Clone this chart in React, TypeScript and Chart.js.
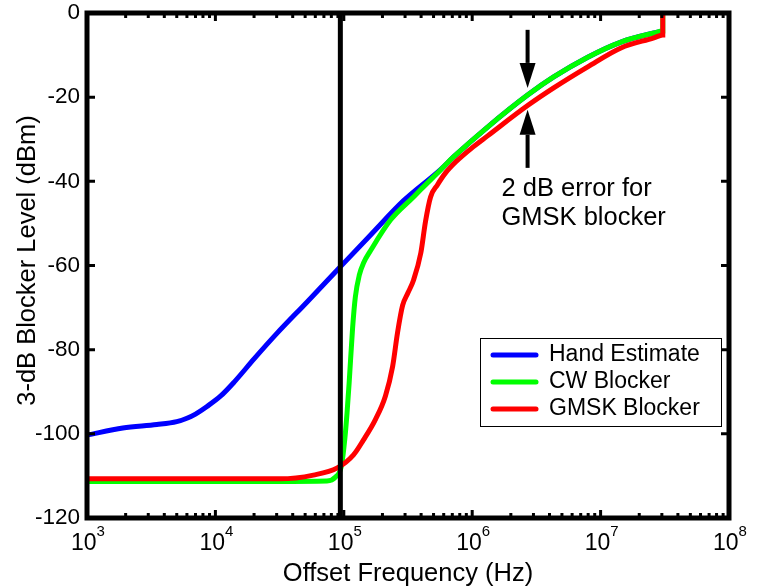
import { useEffect, useRef } from 'react';
import { Chart, registerables } from 'chart.js';

Chart.register(...registerables);

// ---------- data ----------
const X_MIN = 1e3;
const X_MAX = 1e8;
const Y_MIN = -120;
const Y_MAX = 0;
const X_DECADE_EXPONENTS = [3, 4, 5, 6, 7, 8];
const Y_TICKS = [0, -20, -40, -60, -80, -100, -120];

const SERIES_LABELS = ['Hand Estimate', 'CW Blocker', 'GMSK Blocker'];
const SERIES_COLORS = ['#0000ff', '#00ff00', '#ff0000'];

const HAND_X = [1e3, 1.9e3, 3.5e3, 5e3, 6e3, 7e3, 8.6e3, 1.1e4, 1.4e4, 2e4, 3e4, 5.2e4, 9.4e4, 1.61e5, 2.92e5, 5.67e5, 7.16e5, 1.318e6, 2.7e6, 4.31e6, 7.94e6, 1.44e7, 2.6e7, 3.05e7];
const HAND_Y = [-100.3, -98.6, -97.8, -97.1, -96.3, -95.3, -93.5, -91.0, -87.7, -82.2, -76.2, -68.6, -60.3, -52.8, -44.6, -37.2, -34.2, -27.1, -19.5, -15.2, -10.5, -6.9, -4.75, -4.3];

const CW_X = [1e3, 3e4, 7.4e4, 8.6e4, 9.6e4, 1.02e5, 1.06e5, 1.1e5, 1.17e5, 1.23e5, 1.32e5, 1.43e5, 1.613e5, 2.31e5, 3.49e5, 3.96e5, 5.67e5, 7.16e5, 1.318e6, 2.7e6, 4.31e6, 7.94e6, 1.44e7, 2.6e7, 3.05e7, 3.05e7];
const CW_Y = [-111.3, -111.3, -111.2, -110.3, -107.5, -101, -95, -88, -75, -67.5, -62.3, -59.3, -56.5, -49.2, -43.7, -42.0, -37.3, -34.2, -27.1, -19.5, -15.2, -10.5, -6.9, -4.75, -4.3, 0];

const GMSK_X = [1e3, 3.2e4, 5.8e4, 8.9e4, 1.19e5, 1.42e5, 1.77e5, 2.11e5, 2.4e5, 2.62e5, 2.87e5, 3.16e5, 3.49e5, 3.98e5, 4.33e5, 4.74e5, 5.37e5, 6.2e5, 7.5e5, 1e6, 1.318e6, 2.7e6, 4.31e6, 7.94e6, 1.44e7, 2.6e7, 3.05e7, 3.05e7];
const GMSK_Y = [-110.7, -110.7, -109.8, -108.1, -105, -101.5, -96.5, -91, -84, -76, -69.5, -66.5, -63.5, -57, -49.5, -43.7, -40.8, -38.0, -35.3, -32, -29.2, -22.0, -17.8, -12.8, -8.3, -5.9, -5.2, 0];

const LIMIT_X = [9.4e4, 9.4e4];
const LIMIT_Y = [-120, 0];

// annotation: arrows showing the 2 dB error
const ARROW_X = 2.7e6;
const DOWN_ARROW_Y = [-4, -17.8];
const UP_ARROW_Y = [-36.8, -23];
const NOTE_X = 1.69e6;
const NOTE_LINES = ['2 dB error for', 'GMSK blocker'];
const NOTE_Y = [-41.8, -48.6];

const X_TITLE = 'Offset Frequency (Hz)';
const Y_TITLE = '3-dB Blocker Level (dBm)';

// ---------- helpers ----------
const FONT = '"Liberation Sans", Arial, Helvetica, sans-serif';
const pts = (xs: number[], ys: number[]) => xs.map((x, i) => ({ x, y: ys[i] }));

const matlabPlugin = {
  id: 'matlabDecor',
  afterDatasetsDraw(chart: any) {
    const { ctx, chartArea: a, scales } = chart;
    const xs = scales.x;
    const ys = scales.y;
    ctx.save();
    ctx.strokeStyle = '#000';
    ctx.fillStyle = '#000';

    // inward ticks
    ctx.lineWidth = 3;
    ctx.lineCap = 'butt';
    for (let d = X_DECADE_EXPONENTS[0]; d <= X_DECADE_EXPONENTS[X_DECADE_EXPONENTS.length - 1]; d++) {
      for (let m = 1; m <= 9; m++) {
        const v = m * Math.pow(10, d);
        if (v > X_MAX * 1.0001) break;
        const px = xs.getPixelForValue(v);
        const len = m === 1 ? 8 : 5;
        ctx.beginPath();
        ctx.moveTo(px, a.bottom);
        ctx.lineTo(px, a.bottom - len);
        ctx.moveTo(px, a.top);
        ctx.lineTo(px, a.top + len);
        ctx.stroke();
      }
    }
    Y_TICKS.forEach((v) => {
      const py = ys.getPixelForValue(v);
      ctx.beginPath();
      ctx.moveTo(a.left, py);
      ctx.lineTo(a.left + 8, py);
      ctx.moveTo(a.right, py);
      ctx.lineTo(a.right - 8, py);
      ctx.stroke();
    });

    // frame
    ctx.lineWidth = 5;
    ctx.strokeRect(a.left, a.top, a.right - a.left, a.bottom - a.top);

    // y tick labels
    ctx.font = `22.5px ${FONT}`;
    ctx.textAlign = 'right';
    ctx.textBaseline = 'middle';
    Y_TICKS.forEach((v) => {
      ctx.fillText(String(v), a.left - 7, ys.getPixelForValue(v));
    });

    // x tick labels 10^n
    X_DECADE_EXPONENTS.forEach((e) => {
      const px = xs.getPixelForValue(Math.pow(10, e));
      ctx.font = `23px ${FONT}`;
      const wBase = ctx.measureText('10').width;
      ctx.font = `15px ${FONT}`;
      const wExp = ctx.measureText(String(e)).width;
      const start = px - (wBase + wExp) / 2 + 1;
      ctx.textAlign = 'left';
      ctx.textBaseline = 'middle';
      ctx.font = `23px ${FONT}`;
      ctx.fillText('10', start, a.bottom + 26);
      ctx.font = `15px ${FONT}`;
      ctx.fillText(String(e), start + wBase, a.bottom + 14);
    });

    // axis titles
    ctx.font = `25.5px ${FONT}`;
    ctx.textAlign = 'center';
    ctx.textBaseline = 'middle';
    ctx.fillText(X_TITLE, (a.left + a.right) / 2, a.bottom + 56);
    ctx.save();
    ctx.translate(28, (a.top + a.bottom) / 2 - 5);
    ctx.rotate(-Math.PI / 2);
    ctx.fillText(Y_TITLE, 0, 0);
    ctx.restore();

    // arrows
    const ax = xs.getPixelForValue(ARROW_X);
    const headH = 25;
    const headW = 8;
    const drawArrow = (fromY: number, toY: number) => {
      const y0 = ys.getPixelForValue(fromY);
      const y1 = ys.getPixelForValue(toY);
      const dir = y1 > y0 ? 1 : -1;
      ctx.lineWidth = 4;
      ctx.beginPath();
      ctx.moveTo(ax, y0);
      ctx.lineTo(ax, y1 - dir * headH);
      ctx.stroke();
      ctx.beginPath();
      ctx.moveTo(ax, y1);
      ctx.lineTo(ax - headW, y1 - dir * headH);
      ctx.lineTo(ax + headW, y1 - dir * headH);
      ctx.closePath();
      ctx.fill();
    };
    drawArrow(DOWN_ARROW_Y[0], DOWN_ARROW_Y[1]);
    drawArrow(UP_ARROW_Y[0], UP_ARROW_Y[1]);

    ctx.font = `25.5px ${FONT}`;
    ctx.textAlign = 'left';
    ctx.textBaseline = 'middle';
    NOTE_LINES.forEach((t, i) => {
      ctx.fillText(t, xs.getPixelForValue(NOTE_X), ys.getPixelForValue(NOTE_Y[i]));
    });

    // legend box
    const lx = a.right - 249;
    const ly = a.bottom - 180;
    const lw = 241;
    const lh = 88;
    ctx.fillStyle = '#fff';
    ctx.fillRect(lx, ly, lw, lh);
    ctx.lineWidth = 1;
    ctx.strokeStyle = '#000';
    ctx.strokeRect(lx + 0.5, ly + 0.5, lw, lh);
    ctx.font = `23px ${FONT}`;
    ctx.textAlign = 'left';
    ctx.textBaseline = 'middle';
    SERIES_LABELS.forEach((lab, i) => {
      const ry = ly + 17 + i * 27;
      ctx.strokeStyle = SERIES_COLORS[i];
      ctx.lineWidth = 5;
      ctx.lineCap = 'round';
      ctx.beginPath();
      ctx.moveTo(lx + 13, ry);
      ctx.lineTo(lx + 56, ry);
      ctx.stroke();
      ctx.fillStyle = '#000';
      ctx.fillText(lab, lx + 69, ry);
    });

    ctx.restore();
  },
};

export default function App() {
  const ref = useRef<HTMLCanvasElement | null>(null);

  useEffect(() => {
    if (!ref.current) return;
    const common = {
      pointRadius: 0,
      borderWidth: 5,
      fill: false,
      cubicInterpolationMode: 'monotone' as const,
    };
    const chart = new Chart(ref.current, {
      type: 'line',
      data: {
        datasets: [
          { ...common, label: SERIES_LABELS[0], data: pts(HAND_X, HAND_Y), borderColor: SERIES_COLORS[0], order: 3 },
          { ...common, label: SERIES_LABELS[1], data: pts(CW_X, CW_Y), borderColor: SERIES_COLORS[1], order: 2 },
          { ...common, label: SERIES_LABELS[2], data: pts(GMSK_X, GMSK_Y), borderColor: SERIES_COLORS[2], order: 1 },
          { label: 'limit', data: pts(LIMIT_X, LIMIT_Y), borderColor: '#000', borderWidth: 5, pointRadius: 0, order: 0 },
        ],
      },
      options: {
        responsive: false,
        animation: false,
        events: [],
        layout: { padding: { left: 87, right: 30, top: 13, bottom: 70 } },
        plugins: { legend: { display: false }, tooltip: { enabled: false } },
        scales: {
          x: { type: 'logarithmic', min: X_MIN, max: X_MAX, display: false },
          y: { type: 'linear', min: Y_MIN, max: Y_MAX, display: false },
        },
      },
      plugins: [matlabPlugin],
    });
    return () => chart.destroy();
  }, []);

  return (
    <div style={{ position: 'absolute', left: 0, top: 0, width: 759, height: 588, background: '#fff' }}>
      <canvas ref={ref} width={759} height={588} style={{ display: 'block' }} />
    </div>
  );
}
